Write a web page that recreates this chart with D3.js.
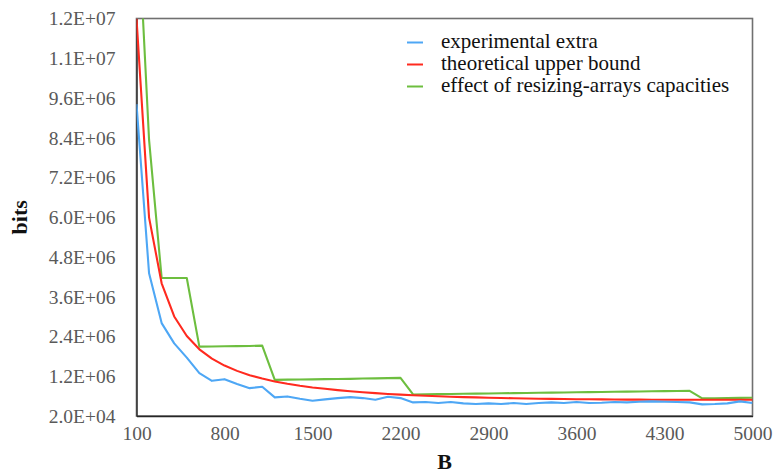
<!DOCTYPE html>
<html>
<head>
<meta charset="utf-8">
<script src="https://cdn.jsdelivr.net/npm/d3@7"></script>
<style>
  html, body { margin: 0; padding: 0; background: #fff; }
  svg { display: block; }
</style>
</head>
<body>
<svg id="chart" width="773" height="473"></svg>
<script>
const B = [100,200,300,400,500,600,700,800,900,1000,1100,1200,1300,1400,1500,1600,1700,1800,1900,2000,
  2100,2200,2300,2400,2500,2600,2700,2800,2900,3000,3100,3200,3300,3400,3500,3600,3700,3800,3900,4000,
  4100,4200,4300,4400,4500,4600,4700,4800,4900,5000];

const experimentalExtra = [9420000,4320000,2820000,2210000,1780000,1310000,1080000,1130000,985000,860000,
  900000,580000,610000,540000,480000,520000,560000,590000,560000,510000,
  600000,560000,430000,440000,410000,440000,400000,380000,400000,380000,
  410000,380000,410000,430000,410000,440000,410000,420000,440000,430000,
  450000,460000,450000,440000,430000,370000,380000,400000,460000,410000];

const theoreticalUpperBound = [12000000,6000000,4020000,3020000,2430000,2030000,1750000,1540000,1380000,1250000,
  1150000,1060000,990000,930000,880000,840000,800000,765000,735000,710000,
  685000,665000,645000,630000,615000,600000,590000,580000,570000,562000,
  555000,548000,542000,536000,531000,527000,523000,520000,517000,515000,
  513000,511000,510000,510000,510000,510000,510000,510000,510000,510000];

const resizingCapacities = [15900000,8340000,4180000,4180000,4180000,2110000,2115000,2120000,2125000,2130000,
  2140000,1110000,1115000,1120000,1125000,1130000,1135000,1140000,1150000,1155000,
  1160000,1170000,670000,675000,680000,685000,690000,695000,700000,705000,
  710000,715000,720000,725000,730000,735000,740000,745000,750000,755000,
  760000,765000,770000,775000,780000,550000,555000,560000,565000,570000];

const seriesNames = ["experimental extra", "theoretical upper bound", "effect of resizing-arrays capacities"];
const seriesColors = ["#4EA7F5", "#FF2A1F", "#6DBE3F"];

const yTickValues = [20000,1218000,2416000,3614000,4812000,6010000,7208000,8406000,9604000,10802000,12000000];
const xTickValues = [100,800,1500,2200,2900,3600,4300,5000];

const FONT = "Liberation Serif";
const svg = d3.select("#chart");
const pLeft = 136.5, pRight = 752.5, pTop = 18.5, pBottom = 416;

const x = d3.scaleLinear().domain([100, 5000]).range([pLeft, pRight]);
const y = d3.scaleLinear().domain([20000, 12000000]).range([pBottom, pTop]);

svg.append("defs").append("clipPath").attr("id", "plotclip")
  .append("rect").attr("x", pLeft).attr("y", pTop).attr("width", pRight - pLeft).attr("height", pBottom - pTop);

// frame
svg.append("rect").attr("x", pLeft).attr("y", pTop).attr("width", pRight - pLeft).attr("height", pBottom - pTop)
  .attr("fill", "none").attr("stroke", "#707070").attr("stroke-width", 1.6);

const fmt = v => {
  const s = v.toExponential(1).toUpperCase();
  return s.replace(/E([+-])(\d)$/, "E$10$2");
};

// Y axis
const yAxis = d3.axisLeft(y).tickValues(yTickValues).tickFormat(fmt).tickSize(0).tickPadding(21);
const gy = svg.append("g").attr("transform", `translate(${pLeft},0)`).call(yAxis);
gy.attr("font-family", FONT);
gy.select(".domain").attr("stroke", "#3a3a3a").attr("stroke-width", 1.6);
gy.selectAll("text").attr("font-family", FONT).attr("font-size", 19.5).attr("fill", "#595959");

// X axis
const xAxis = d3.axisBottom(x).tickValues(xTickValues).tickFormat(d3.format("d")).tickSize(0).tickPadding(10);
const gx = svg.append("g").attr("transform", `translate(0,${pBottom})`).call(xAxis);
gx.attr("font-family", FONT);
gx.select(".domain").attr("stroke", "#262626").attr("stroke-width", 1.6);
gx.selectAll("text").attr("font-family", FONT).attr("font-size", 19.5).attr("fill", "#595959");

// lines
const allSeries = [experimentalExtra, theoreticalUpperBound, resizingCapacities];
const line = d3.line().x((d, i) => x(B[i])).y(d => y(d));
const plot = svg.append("g").attr("clip-path", "url(#plotclip)");
[2, 1, 0].forEach(k => {
  plot.append("path").datum(allSeries[k])
    .attr("d", line)
    .attr("fill", "none")
    .attr("stroke", seriesColors[k])
    .attr("stroke-width", 2.1)
    .attr("stroke-linejoin", "round");
});

// axis titles
svg.append("text").attr("x", (pLeft + pRight) / 2).attr("y", 469).attr("text-anchor", "middle")
  .attr("font-family", FONT).attr("font-size", 22).attr("font-weight", "bold").attr("fill", "#111").text("B");
svg.append("text").attr("transform", `translate(27,${(pTop + pBottom) / 2}) rotate(-90)`)
  .attr("text-anchor", "middle").attr("font-family", FONT).attr("font-size", 22).attr("font-weight", "bold")
  .attr("fill", "#111").text("bits");

// legend
const legend = svg.append("g");
seriesNames.forEach((name, i) => {
  const ly = 42.5 + i * 22;
  legend.append("line").attr("x1", 407).attr("x2", 423).attr("y1", ly).attr("y2", ly)
    .attr("stroke", seriesColors[i]).attr("stroke-width", 2);
  legend.append("text").attr("x", 441).attr("y", ly + 5.5).attr("font-family", FONT)
    .attr("font-size", 21).attr("fill", "#111").text(name);
});
</script>
</body>
</html>
